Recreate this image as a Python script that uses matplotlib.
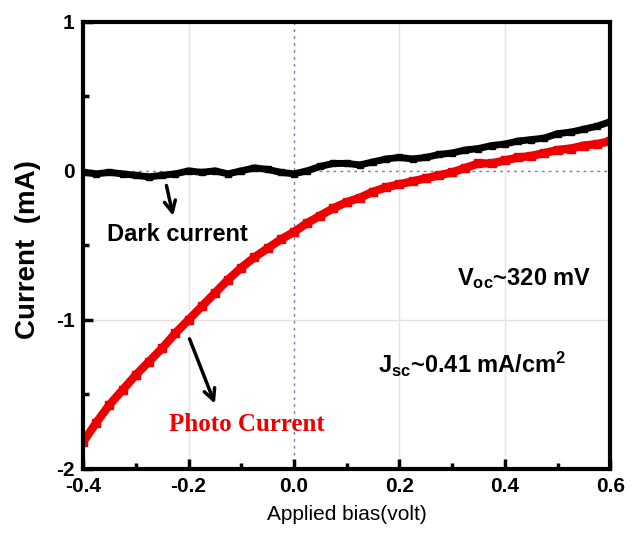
import numpy as np
import matplotlib.pyplot as plt
from matplotlib.ticker import MultipleLocator, FormatStrFormatter

plt.rcParams['font.family'] = ['Liberation Sans', 'DejaVu Sans']
plt.rcParams['mathtext.fontset'] = 'custom'
plt.rcParams['mathtext.rm'] = 'Liberation Sans'
plt.rcParams['mathtext.bf'] = 'Liberation Sans:bold'
plt.rcParams['axes.unicode_minus'] = False

# applied bias (V)
bias = np.arange(-0.4, 0.6001, 0.025)

# dark current (mA)
dark = [-0.01, -0.02, -0.01, -0.02, -0.03, -0.04, -0.03, -0.02, 0.00, -0.01,
        0.00, -0.02, 0.00, 0.02, 0.01, -0.01, -0.02, 0.00, 0.03, 0.05,
        0.05, 0.04, 0.06, 0.08, 0.09, 0.08, 0.09, 0.11, 0.12, 0.14,
        0.15, 0.17, 0.18, 0.20, 0.21, 0.22, 0.25, 0.26, 0.28, 0.30, 0.33]

# photo current (mA)
photo = [-1.82, -1.69, -1.57, -1.47, -1.37, -1.28, -1.19, -1.09, -1.00, -0.91,
         -0.82, -0.73, -0.65, -0.58, -0.52, -0.46, -0.41, -0.35, -0.30, -0.25,
         -0.21, -0.18, -0.14, -0.11, -0.09, -0.07, -0.05, -0.03, -0.01, 0.02,
         0.05, 0.05, 0.07, 0.09, 0.10, 0.12, 0.14, 0.15, 0.17, 0.18, 0.20]

fig = plt.figure(figsize=(6.39, 5.34), dpi=100)
ax = fig.add_axes([0.130, 0.122, 0.825, 0.837])

# light grid + dotted zero lines
for gx in [-0.2, 0.2, 0.4]:
    ax.axvline(gx, color='#e4e4e4', lw=1, zorder=0)
ax.axhline(-1, color='#ecdede', lw=1, zorder=0)
ax.axvline(0, color='#7a7ab8', lw=1, ls=(0, (2, 3)), zorder=0)
ax.axhline(0, color='#7a7ab8', lw=1, ls=(0, (2, 3)), zorder=0)

ax.plot(bias, dark, color='black', lw=5, marker='s', ms=5)
ax.plot(bias, photo, color='#ee0000', lw=6, marker='s', ms=6)

ax.set_xlim(-0.4, 0.6)
ax.set_ylim(-2, 1)
ax.xaxis.set_major_locator(MultipleLocator(0.2))
ax.xaxis.set_minor_locator(MultipleLocator(0.1))
ax.xaxis.set_major_formatter(FormatStrFormatter('%.1f'))
ax.yaxis.set_major_locator(MultipleLocator(1))
ax.yaxis.set_minor_locator(MultipleLocator(0.5))
ax.tick_params(which='both', direction='in', width=2.5, top=False, right=False)
ax.tick_params(which='major', length=7, labelsize=15, pad=6)
ax.tick_params(which='minor', length=4)
for lab in ax.get_xticklabels() + ax.get_yticklabels():
    lab.set_fontweight('bold')
for sp in ax.spines.values():
    sp.set_linewidth(3)

ax.set_ylabel('Current  (mA)', fontsize=20, fontweight='bold')
ax.yaxis.set_label_coords(-0.080, 0.49)
ax.set_xlabel('Applied bias(volt)', fontsize=15, labelpad=6)

ax.annotate('', xy=(-0.228, -0.32), xytext=(-0.243, -0.08),
            arrowprops=dict(arrowstyle='->', lw=2.5, color='black', mutation_scale=20))
ax.text(-0.2207, -0.43, 'Dark current', fontsize=17, fontweight='bold',
        ha='center', va='center')

ax.annotate('', xy=(-0.148, -1.58), xytext=(-0.2, -1.11),
            arrowprops=dict(arrowstyle='->', lw=2.5, color='black', mutation_scale=20))
ax.text(-0.089, -1.70, 'Photo Current', fontsize=18, fontweight='bold',
        color='#ee0000', family='Liberation Serif', ha='center', va='center')

ax.text(0.436, -0.72, r'$\mathbf{V_{oc}}$~320 mV', fontsize=17,
        fontweight='bold', ha='center', va='center')
ax.text(0.339, -1.30, r'$\mathbf{J_{sc}}$~0.41 mA/cm$\mathbf{^2}$', fontsize=17,
        fontweight='bold', ha='center', va='center')

fig.savefig('out.png', dpi=100)
